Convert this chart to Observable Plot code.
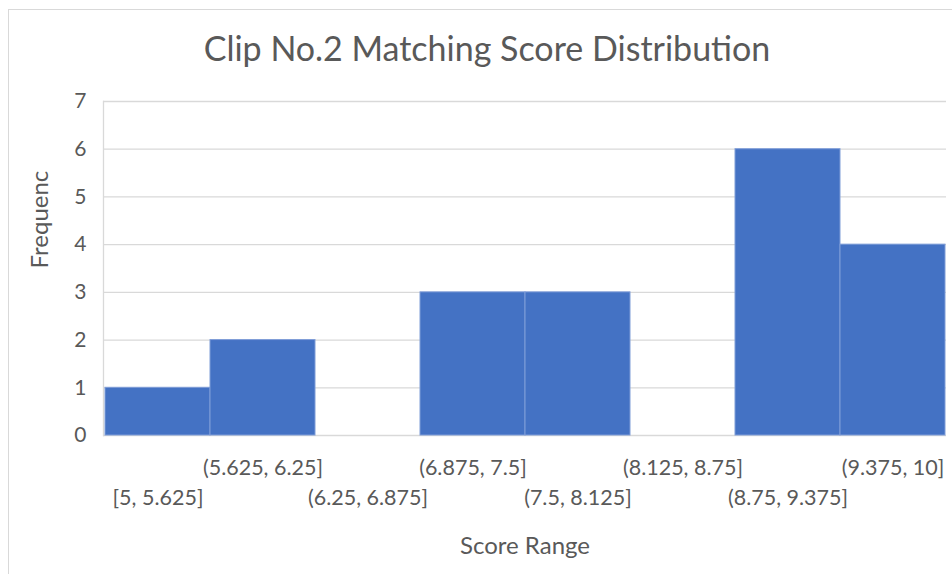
<!DOCTYPE html>
<html>
<head>
<meta charset="utf-8">
<script src="https://cdn.jsdelivr.net/npm/d3@7"></script>
<script src="https://cdn.jsdelivr.net/npm/@observablehq/plot@0.6"></script>
<style>
  html, body { margin: 0; padding: 0; background: #fff; overflow: hidden; }
  #wrap { position: relative; width: 952px; height: 574px; overflow: hidden; }
  #border { position: absolute; left: 8px; top: 9px; width: 1000px; height: 700px; border: 1px solid #d9d9d9; box-sizing: border-box; }
  #chart { position: absolute; left: 0; top: 0; }
</style>
</head>
<body>
<div id="wrap"><div id="border"></div><div id="chart"></div></div>
<script>
const categories = ["[5, 5.625]", "(5.625, 6.25]", "(6.25, 6.875]", "(6.875, 7.5]", "(7.5, 8.125]", "(8.125, 8.75]", "(8.75, 9.375]", "(9.375, 10]"];
const frequencies = [1, 2, 0, 3, 3, 0, 6, 4];
const yTicks = [0, 1, 2, 3, 4, 5, 6, 7];
const titleText = "Clip No.2 Matching Score Distribution";
const xLabel = "Score Range";
const yLabel = "Frequenc";

const data = categories.map((c, i) => ({range: c, freq: frequencies[i]}));
const font = "Lato, 'Open Sans', sans-serif";

const chart = Plot.plot({
  width: 952,
  height: 574,
  marginLeft: 103,
  marginRight: 6,
  marginTop: 101,
  marginBottom: 139,
  style: {fontFamily: font, color: "#595959", background: "transparent"},
  x: {domain: categories, padding: 0, axis: null},
  y: {domain: [0, 7], axis: null},
  marks: [
    Plot.gridY(yTicks, {stroke: "#d9d9d9", strokeOpacity: 1, strokeWidth: 1.3}),
    Plot.frame({anchor: "left", stroke: "#d9d9d9", strokeWidth: 1.3}),
    Plot.barY(data.filter(d => d.freq > 0), {x: "range", y: "freq", fill: "#4472C4", stroke: "#7f9dd8", strokeWidth: 1}),
    Plot.axisY(yTicks, {tickSize: 0, tickPadding: 17, fontSize: 21, fill: "#595959", label: null}),
    Plot.axisX(categories.filter((_, i) => i % 2 === 1), {tickSize: 0, tickPadding: 24, fontSize: 21.5, fill: "#595959", label: null}),
    Plot.axisX(categories.filter((_, i) => i % 2 === 0), {tickSize: 0, tickPadding: 54, fontSize: 21.5, fill: "#595959", label: null}),
    Plot.text([titleText], {frameAnchor: "top", lineAnchor: "middle", dx: -38, dy: -51, fontSize: 34, fill: "#595959"}),
    Plot.text([xLabel], {frameAnchor: "bottom", lineAnchor: "middle", dy: 111, fontSize: 24, fill: "#595959"}),
    Plot.text([yLabel], {frameAnchor: "left", lineAnchor: "middle", dx: -63, rotate: -90, fontSize: 24, fill: "#595959"})
  ]
});
document.getElementById("chart").appendChild(chart);
</script>
</body>
</html>
